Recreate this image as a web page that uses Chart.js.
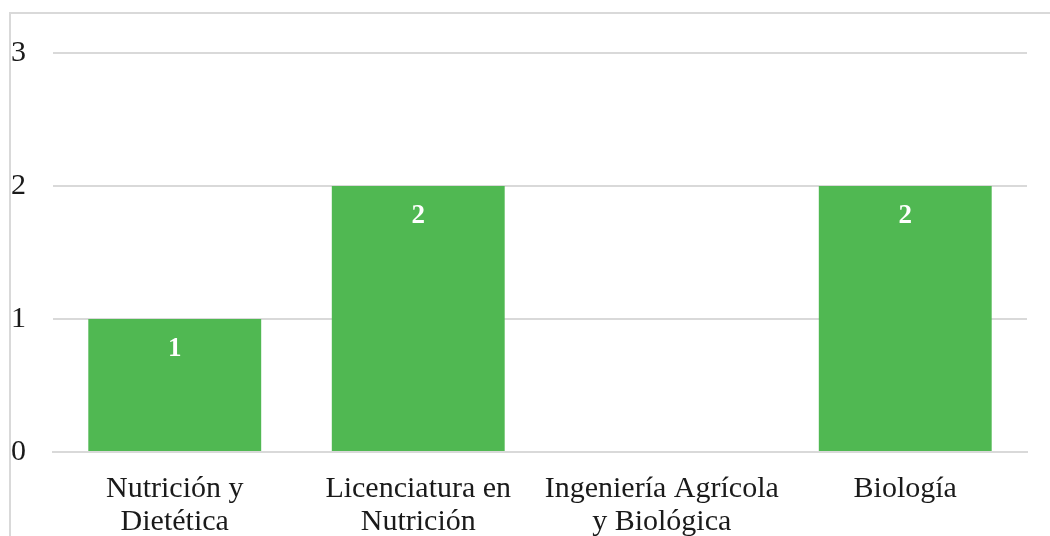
<!DOCTYPE html>
<html>
<head>
<meta charset="utf-8">
<script src="https://cdn.jsdelivr.net/npm/chart.js@4.4.1/dist/chart.umd.min.js"></script>
<style>
  html, body { margin: 0; padding: 0; background: #ffffff; }
  #wrap { width: 1050px; height: 536px; position: relative; }
</style>
</head>
<body>
<div id="wrap"><canvas id="chart" width="1050" height="536"></canvas></div>
<script>
// Programmes and number of students per programme
const categories = [
  ['Nutrición y', 'Dietética'],
  ['Licenciatura en', 'Nutrición'],
  ['Ingeniería Agrícola', 'y Biológica'],
  ['Biología']
];
const counts = [1, 2, 0, 2];
const yTicks = [0, 1, 2, 3];

const SERIF = '"Liberation Serif", "Times New Roman", serif';

// Light frame around the whole chart
const framePlugin = {
  id: 'frame',
  beforeDraw(chart) {
    const ctx = chart.ctx;
    ctx.save();
    ctx.fillStyle = '#ffffff';
    ctx.fillRect(0, 0, chart.width, chart.height);
    ctx.strokeStyle = '#d9d9d9';
    ctx.lineWidth = 2;
    ctx.strokeRect(10, 13, 1200, 700);
    ctx.restore();
  }
};

// Value labels inside the top of each bar
const valueLabels = {
  id: 'valueLabels',
  afterDatasetsDraw(chart) {
    const ctx = chart.ctx;
    const meta = chart.getDatasetMeta(0);
    ctx.save();
    ctx.fillStyle = '#ffffff';
    ctx.font = 'bold 27px ' + SERIF;
    ctx.textAlign = 'center';
    ctx.textBaseline = 'middle';
    meta.data.forEach((bar, i) => {
      const v = chart.data.datasets[0].data[i];
      if (!v) return;
      ctx.fillText(String(v), bar.x, bar.y + 30);
    });
    ctx.restore();
  }
};

new Chart(document.getElementById('chart'), {
  type: 'bar',
  data: {
    labels: categories,
    datasets: [{
      data: counts,
      backgroundColor: '#50b852',
      borderWidth: 0,
      categoryPercentage: 1.0,
      barPercentage: 0.71
    }]
  },
  options: {
    responsive: false,
    animation: false,
    devicePixelRatio: 1,
    layout: { padding: { top: 53, right: 23, bottom: 0, left: 0 } },
    plugins: { legend: { display: false }, tooltip: { enabled: false } },
    scales: {
      x: {
        grid: { display: false, drawTicks: false },
        border: { display: true, color: '#d9d9d9', width: 2 },
        ticks: {
          color: '#1a1a1a',
          font: { family: SERIF, size: 30, lineHeight: 1.1 },
          padding: 21,
          maxRotation: 0,
          autoSkip: false
        },
        afterFit(axis) { axis.height = 84; }
      },
      y: {
        min: 0,
        max: 3,
        afterBuildTicks(axis) { axis.ticks = yTicks.map(v => ({ value: v })); },
        grid: { color: '#d9d9d9', lineWidth: 2, drawTicks: false },
        border: { display: false },
        ticks: {
          color: '#1a1a1a',
          font: { family: SERIF, size: 30 },
          padding: 27
        },
        afterFit(axis) { axis.width = 53; }
      }
    }
  },
  plugins: [framePlugin, valueLabels]
});
</script>
</body>
</html>
